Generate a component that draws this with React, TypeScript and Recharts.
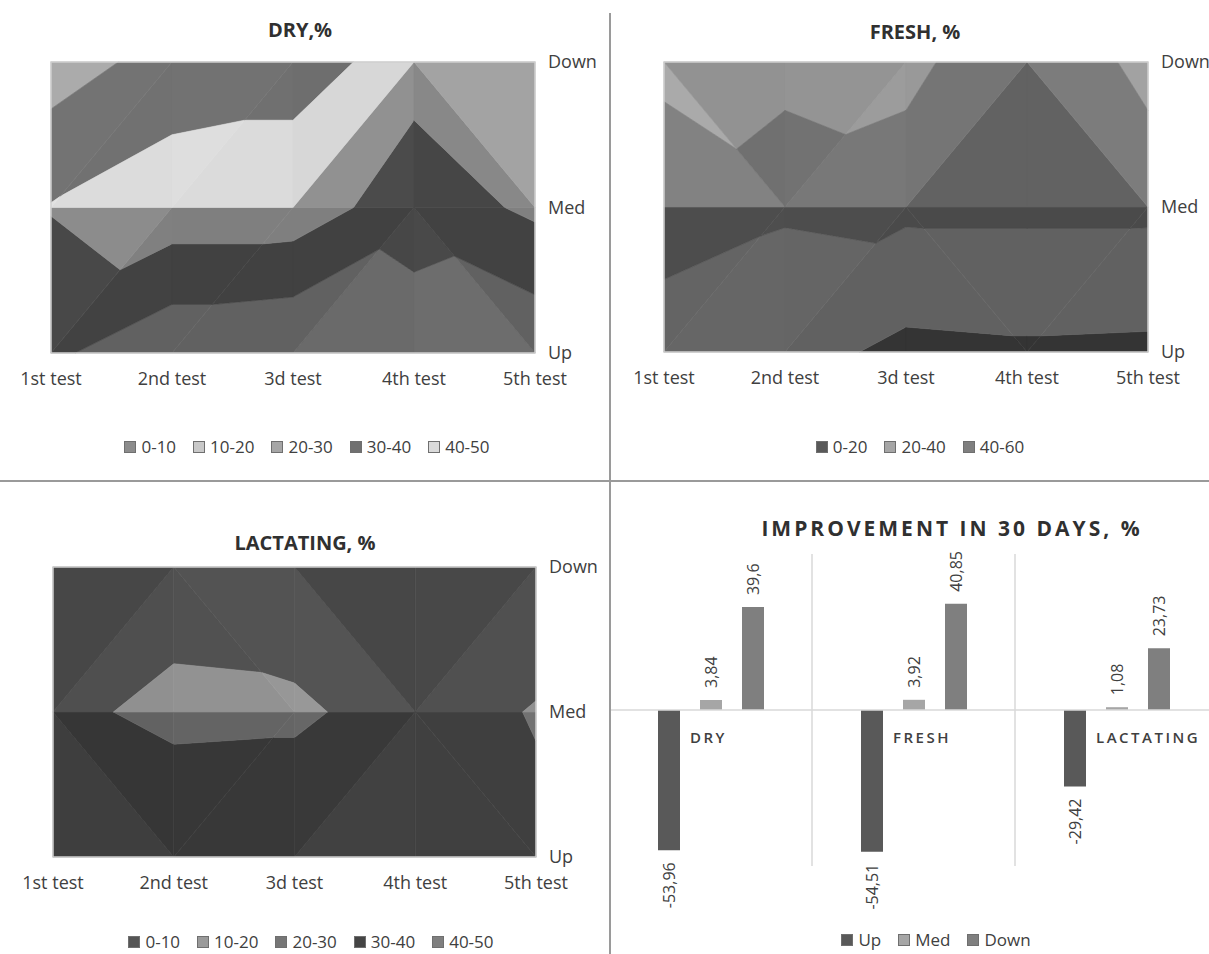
import React from 'react';
import {
  ComposedChart,
  BarChart,
  Bar,
  Scatter,
  XAxis,
  YAxis,
  ReferenceArea,
  ReferenceLine,
  LabelList,
} from 'recharts';

// axis categories
const TESTS = ['1st test', '2nd test', '3d test', '4th test', '5th test'];
const LEVELS = ['Up', 'Med', 'Down'];

// DRY, % (one value per test)
const DRY_UP = [32, 22, 20, 25, 22];
const DRY_MED = [40.5, 46, 46, 34, 42];
const DRY_DOWN = [25, 34, 36, 44, 45];
const DRY_BANDS = ['0-10', '10-20', '20-30', '30-40', '40-50'];
const DRY_COLORS = ['#8c8c8c', '#c8c8c8', '#a6a6a6', '#707070', '#dadada'];

// FRESH, %
const FRESH_UP = [32, 28, 15, 17, 16];
const FRESH_MED = [48, 42, 44, 44, 44];
const FRESH_DOWN = [37, 39, 38, 46, 38];
const FRESH_BANDS = ['0-20', '20-40', '40-60'];
const FRESH_COLORS = ['#595959', '#a6a6a6', '#7f7f7f'];

// LACTATING, %
const LACT_UP = [4, 3, 3, 4, 8];
const LACT_MED = [8, 12, 11.5, 6, 10.5];
const LACT_DOWN = [8, 6, 4, 5, 4];
const LACT_BANDS = ['0-10', '10-20', '20-30', '30-40', '40-50'];
const LACT_COLORS = ['#555555', '#9a9a9a', '#767676', '#444444', '#7f7f7f'];

// improvement in 30 days, %
const GROUPS = ['DRY', 'FRESH', 'LACTATING'];
const UP_CHANGE = [-53.96, -54.51, -29.42];
const MED_CHANGE = [3.84, 3.92, 1.08];
const DOWN_CHANGE = [39.6, 40.85, 23.73];
const BAR_SERIES = ['Up', 'Med', 'Down'];
const BAR_COLORS = ['#595959', '#a6a6a6', '#7f7f7f'];

const TEXT = '#404040';
const FONT = '"Open Sans", sans-serif';

type Pt = { x: number; y: number; z: number; u: number; v: number };

const lerp = (a: Pt, b: Pt, t: number): Pt => ({
  x: a.x + (b.x - a.x) * t,
  y: a.y + (b.y - a.y) * t,
  z: a.z + (b.z - a.z) * t,
  u: a.u + (b.u - a.u) * t,
  v: a.v + (b.v - a.v) * t,
});

// keep the part of a polygon where f(z) >= 0
const clip = (poly: Pt[], f: (z: number) => number) => {
  const out: Pt[] = [];
  for (let i = 0; i < poly.length; i++) {
    const a = poly[i];
    const b = poly[(i + 1) % poly.length];
    const fa = f(a.z);
    const fb = f(b.z);
    if (fa >= 0) out.push(a);
    if (fa >= 0 !== fb >= 0) out.push(lerp(a, b, fa / (fa - fb)));
  }
  return out;
};

const shade = (hex: string, m: number) => {
  const n = parseInt(hex.slice(1), 16);
  const ch = [(n >> 16) & 255, (n >> 8) & 255, n & 255].map((c) =>
    Math.max(0, Math.min(255, Math.round(c * m)))
  );
  return `rgb(${ch[0]},${ch[1]},${ch[2]})`;
};

// excel-like face lighting from the slope of each triangle
const lighting = (t: Pt[]) => {
  const du1 = t[1].u - t[0].u, dv1 = t[1].v - t[0].v, dz1 = t[1].z - t[0].z;
  const du2 = t[2].u - t[0].u, dv2 = t[2].v - t[0].v, dz2 = t[2].z - t[0].z;
  const det = du1 * dv2 - du2 * dv1 || 1;
  const gx = (dz1 * dv2 - dz2 * dv1) / det;
  const gy = (du1 * dz2 - du2 * dz1) / det;
  return 0.82 - 0.24 * Math.tanh((gy + 0.2 * gx) / 10);
};

const cellShape = (grid: number[][], r: number, c: number, colors: string[], step: number) =>
  (p: any) => {
    const { x, y, width, height } = p;
    if (x == null || width == null) return <g />;
    const a: Pt = { x, y: y + height, z: grid[r][c], u: c, v: r };
    const b: Pt = { x: x + width, y: y + height, z: grid[r][c + 1], u: c + 1, v: r };
    const cc: Pt = { x: x + width, y, z: grid[r + 1][c + 1], u: c + 1, v: r + 1 };
    const d: Pt = { x, y, z: grid[r + 1][c], u: c, v: r + 1 };
    const tris =
      Math.abs(a.z - cc.z) <= Math.abs(b.z - d.z)
        ? [[a, b, cc], [a, cc, d]]
        : [[a, b, d], [b, cc, d]];
    const polys: React.ReactNode[] = [];
    tris.forEach((tri, ti) => {
      const m = lighting(tri);
      colors.forEach((col, bi) => {
        const lo = bi === 0 ? -Infinity : bi * step;
        const hi = bi === colors.length - 1 ? Infinity : (bi + 1) * step;
        let poly = clip(tri, (z) => (lo === -Infinity ? 1 : z - lo));
        if (poly.length < 3) return;
        poly = clip(poly, (z) => (hi === Infinity ? 1 : hi - z - 1e-9));
        if (poly.length < 3) return;
        const fill = shade(col, m);
        polys.push(
          <polygon
            key={`${ti}-${bi}`}
            points={poly.map((q) => `${q.x},${q.y}`).join(' ')}
            fill={fill}
            stroke={fill}
            strokeWidth={0.6}
          />
        );
      });
    });
    return <g>{polys}</g>;
  };

const Legend = ({ labels, colors, left, top, width }: any) => (
  <div
    style={{
      position: 'absolute',
      left,
      top,
      width,
      display: 'flex',
      justifyContent: 'center',
      gap: 17,
      fontSize: 17,
      color: TEXT,
      lineHeight: '20px',
    }}
  >
    {labels.map((l: string, i: number) => (
      <span key={l} style={{ display: 'flex', alignItems: 'center' }}>
        <span
          style={{
            width: 10,
            height: 10,
            background: colors[i],
            border: '1px solid #6f6f6f',
            marginRight: 5,
          }}
        />
        {l}
      </span>
    ))}
  </div>
);

const Title = ({ text, left, top, width, spacing = 0, size = 20 }: any) => (
  <div
    style={{
      position: 'absolute',
      left,
      top,
      width,
      textAlign: 'center',
      fontWeight: 700,
      fontSize: size,
      letterSpacing: spacing,
      color: '#303030',
    }}
  >
    {text}
  </div>
);

const SurfaceChart = ({ up, med, down, colors, step, width, marginLeft, marginRight, xHeight }: any) => {
  const grid = [up, med, down];
  const points = grid.flatMap((row: number[], v: number) => row.map((z, u) => ({ u, v, z })));
  const cells: React.ReactNode[] = [];
  for (let r = 0; r < 2; r++) {
    for (let c = 0; c < 4; c++) {
      cells.push(
        <ReferenceArea
          key={`${r}-${c}`}
          x1={c}
          x2={c + 1}
          y1={r}
          y2={r + 1}
          shape={cellShape(grid, r, c, colors, step)}
        />
      );
    }
  }
  return (
    <ComposedChart
      width={width}
      height={400}
      margin={{ top: 62, left: marginLeft, right: marginRight, bottom: 0 }}
    >
      <XAxis
        type="number"
        dataKey="u"
        domain={[0, 4]}
        ticks={[0, 1, 2, 3, 4]}
        interval={0}
        tickFormatter={(v: number) => TESTS[v]}
        axisLine={false}
        tickLine={false}
        tickMargin={13}
        height={xHeight}
        tick={{ fill: TEXT, fontSize: 18 }}
      />
      <YAxis
        type="number"
        dataKey="v"
        orientation="right"
        domain={[0, 2]}
        ticks={[0, 1, 2]}
        interval={0}
        tickFormatter={(v: number) => LEVELS[v]}
        axisLine={false}
        tickLine={false}
        tickMargin={7}
        width={60}
        tick={{ fill: TEXT, fontSize: 18, textAnchor: 'start' }}
      />
      {cells}
      <ReferenceArea x1={0} x2={4} y1={0} y2={2} fill="none" stroke="#cfcfcf" strokeWidth={1.5} />
      <Scatter data={points} dataKey="z" shape={() => <g />} isAnimationActive={false} />
    </ComposedChart>
  );
};

const fmt = (v: number) => String(v).replace('.', ',');

const ValueLabel = (p: any) => {
  const { x, y, width, height, value } = p;
  const cx = x + width / 2;
  const top = Math.min(y, y + height);
  const bottom = Math.max(y, y + height);
  const pos = value >= 0;
  const ty = pos ? top - 12 : bottom + 12;
  return (
    <text
      x={cx}
      y={ty}
      transform={`rotate(-90 ${cx} ${ty})`}
      textAnchor={pos ? 'start' : 'end'}
      dominantBaseline="central"
      fontSize={16}
      fill={TEXT}
    >
      {fmt(value)}
    </text>
  );
};

const GroupLabel = (p: any) => {
  const { x, y, width, height, index } = p;
  const zero = Math.min(y, y + height);
  return (
    <text
      x={x + width + 10}
      y={zero + 27}
      dominantBaseline="central"
      fontSize={15}
      fontWeight={600}
      letterSpacing={2.5}
      fill={TEXT}
    >
      {GROUPS[index]}
    </text>
  );
};

const barData = GROUPS.map((name, i) => ({
  name,
  up: UP_CHANGE[i],
  med: MED_CHANGE[i],
  down: DOWN_CHANGE[i],
}));

export default function App() {
  return (
    <div
      style={{
        position: 'relative',
        width: 1209,
        height: 954,
        overflow: 'hidden',
        background: '#fff',
        fontFamily: FONT,
      }}
    >
      <style>{'body{margin:0}'}</style>

      {/* DRY */}
      <Title text="DRY,%" left={0} top={16} width={600} />
      <div style={{ position: 'absolute', left: 0, top: 0 }}>
        <SurfaceChart
          up={DRY_UP}
          med={DRY_MED}
          down={DRY_DOWN}
          colors={DRY_COLORS}
          step={10}
          width={610}
          marginLeft={51}
          marginRight={15}
          xHeight={47}
        />
      </div>
      <Legend labels={DRY_BANDS} colors={DRY_COLORS} left={0} top={437} width={614} />

      {/* FRESH */}
      <Title text="FRESH, %" left={615} top={18} width={600} />
      <div style={{ position: 'absolute', left: 610, top: 0, width: 599, height: 420, overflow: 'hidden' }}>
        <SurfaceChart
          up={FRESH_UP}
          med={FRESH_MED}
          down={FRESH_DOWN}
          colors={FRESH_COLORS}
          step={20}
          width={600}
          marginLeft={54}
          marginRight={2}
          xHeight={48}
        />
      </div>
      <Legend labels={FRESH_BANDS} colors={FRESH_COLORS} left={620} top={437} width={600} />

      {/* LACTATING */}
      <Title text="LACTATING, %" left={0} top={529} width={610} />
      <div style={{ position: 'absolute', left: 0, top: 505 }}>
        <SurfaceChart
          up={LACT_UP}
          med={LACT_MED}
          down={LACT_DOWN}
          colors={LACT_COLORS}
          step={10}
          width={610}
          marginLeft={53}
          marginRight={14}
          xHeight={48}
        />
      </div>
      <Legend labels={LACT_BANDS} colors={LACT_COLORS} left={0} top={932} width={622} />

      {/* IMPROVEMENT */}
      <Title text="IMPROVEMENT IN 30 DAYS, %" left={652} top={514} width={600} spacing={3} size={21} />
      <div style={{ position: 'absolute', left: 609, top: 481, width: 600, height: 473, overflow: 'hidden' }}>
        <BarChart
          width={609}
          height={473}
          data={barData}
          margin={{ top: 73, left: 0, right: 0, bottom: 88 }}
          barSize={22}
          barGap={20}
        >
          <XAxis dataKey="name" hide />
          <YAxis domain={[-60, 60]} hide />
          <ReferenceLine x={GROUPS[1]} position="start" stroke="#d9d9d9" strokeWidth={1.5} />
          <ReferenceLine x={GROUPS[2]} position="start" stroke="#d9d9d9" strokeWidth={1.5} />
          <ReferenceLine y={0} stroke="#d9d9d9" strokeWidth={1.5} />
          <Bar dataKey="up" name={BAR_SERIES[0]} fill={BAR_COLORS[0]} isAnimationActive={false}>
            <LabelList dataKey="up" content={ValueLabel} />
            <LabelList dataKey="up" content={GroupLabel} />
          </Bar>
          <Bar dataKey="med" name={BAR_SERIES[1]} fill={BAR_COLORS[1]} isAnimationActive={false}>
            <LabelList dataKey="med" content={ValueLabel} />
          </Bar>
          <Bar dataKey="down" name={BAR_SERIES[2]} fill={BAR_COLORS[2]} isAnimationActive={false}>
            <LabelList dataKey="down" content={ValueLabel} />
          </Bar>
        </BarChart>
      </div>
      <Legend labels={BAR_SERIES} colors={BAR_COLORS} left={636} top={930} width={600} />

      {/* dividers */}
      <div style={{ position: 'absolute', left: 609, top: 13, width: 2, height: 941, background: '#9a9a9a' }} />
      <div style={{ position: 'absolute', left: 0, top: 480, width: 1209, height: 2, background: '#9a9a9a' }} />
    </div>
  );
}
